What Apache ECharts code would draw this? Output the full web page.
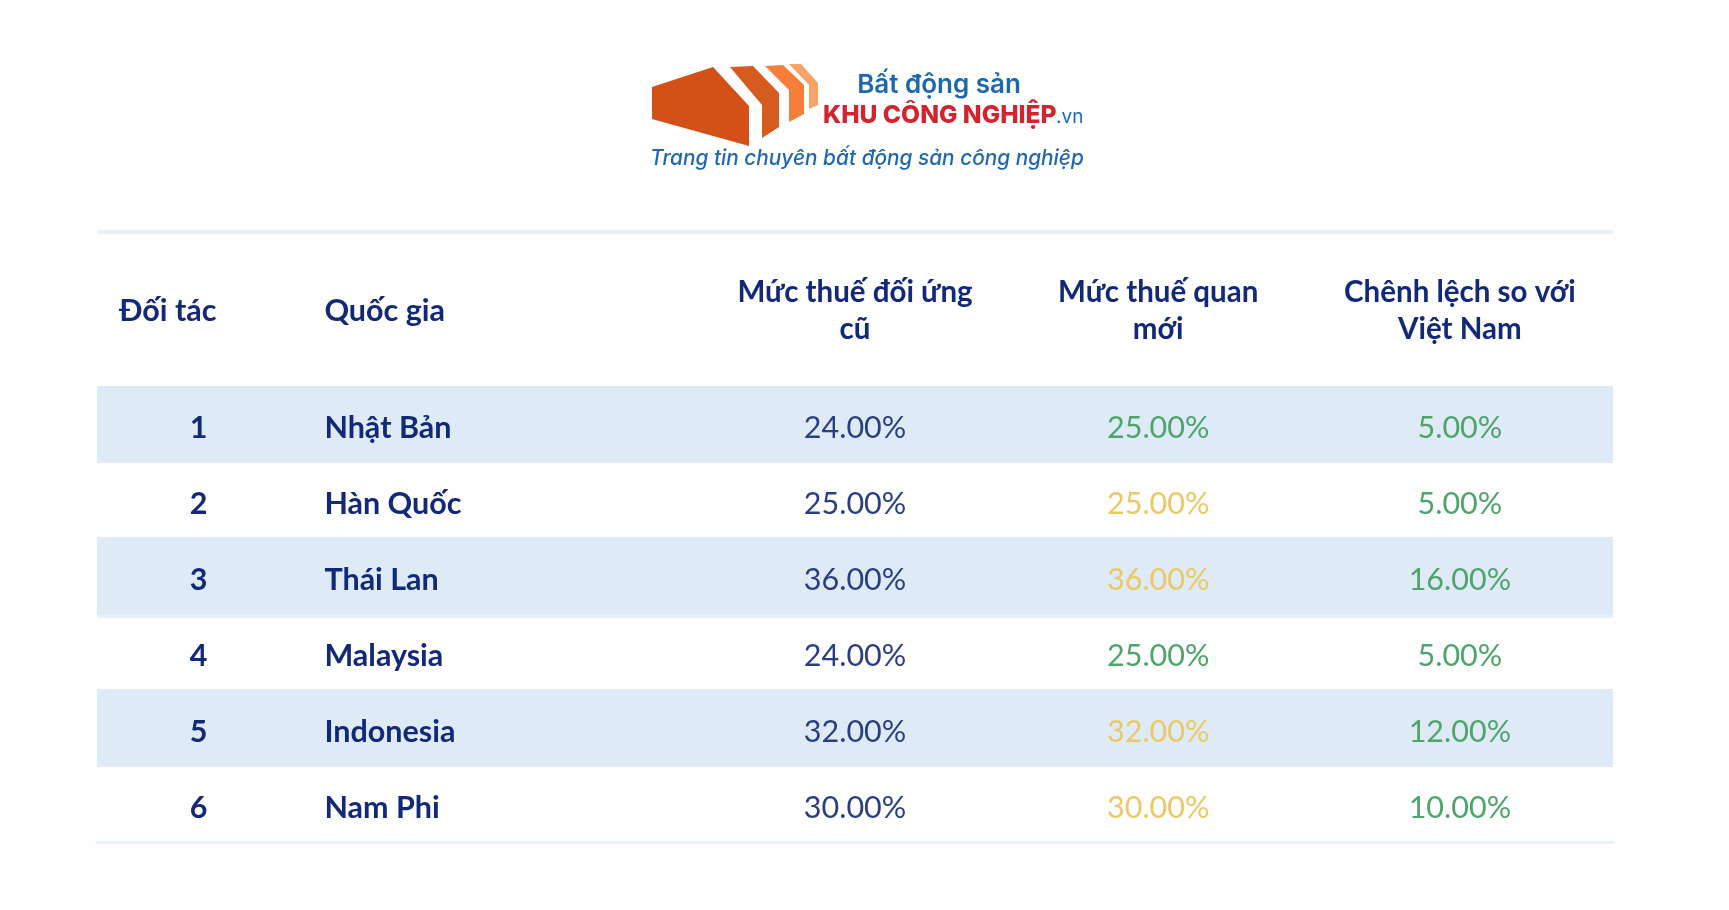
<!DOCTYPE html>
<html>
<head>
<meta charset="utf-8">
<title>Bảng so sánh thuế quan</title>
<style>
  html, body { margin: 0; padding: 0; background: #fefefe; }
  #chart { width: 1729px; height: 910px; }
</style>
<script src="https://cdn.jsdelivr.net/npm/echarts@6/dist/echarts.min.js"></script>
</head>
<body>
<div id="chart"></div>
<script>
  // ===== data =====
  const partners = ["1", "2", "3", "4", "5", "6"];
  const countries = ["Nhật Bản", "Hàn Quốc", "Thái Lan", "Malaysia", "Indonesia", "Nam Phi"];
  const oldRates = [24, 25, 36, 24, 32, 30];
  const newRates = [25, 25, 36, 25, 32, 30];
  const gaps = [5, 5, 16, 5, 12, 10];
  const newRateLevels = ["good", "warn", "warn", "good", "warn", "warn"];
  const headers = ["Đối tác", "Quốc gia", "Mức thuế đối ứng\ncũ", "Mức thuế quan\nmới", "Chênh lệch so với\nViệt Nam"];
  const shadedRows = [100, null, 100, null, 100, null];

  // ===== style =====
  const FONT = "Lato";
  const NAVY = "#12297a";
  const VALUE = "#2b3f80";
  const GREEN = "#4fa46c";
  const YELLOW = "#e9c966";
  const BAND = "#deebf6";
  const RULE = "#e9f0f7";
  const levelColor = { good: GREEN, warn: YELLOW };

  // table box, and column anchors as % of its width
  const TABLE_LEFT = 97, TABLE_WIDTH = 1516, BODY_TOP = 386, BODY_BOTTOM = 842;
  const colPos = [6.7, 15, 50, 70, 89.9];
  const colX = p => TABLE_LEFT + TABLE_WIDTH * p / 100;
  const fmtPct = v => v.toFixed(2) + "%";

  function cellSeries(col, values, opts) {
    return {
      type: "scatter",
      symbolSize: 0,
      silent: true,
      z: 5,
      itemStyle: { opacity: 1 },
      data: values.map((v, i) => ({
        value: [colPos[col], i],
        raw: v,
        label: opts.colors ? { color: opts.colors[i] } : undefined,
      })),
      label: {
        show: true,
        position: "inside",
        align: opts.align || "center",
        verticalAlign: "middle",
        offset: [0, 4],
        fontFamily: FONT,
        fontSize: 30.5,
        fontWeight: opts.weight || "normal",
        color: opts.color || VALUE,
        formatter: p => opts.fmt ? opts.fmt(p.data.raw) : p.data.raw,
      },
    };
  }

  // header row
  const headerGraphics = headers.map((h, i) => ({
    type: "text",
    silent: true,
    style: {
      text: h,
      x: i === 0 ? 119 : colX(colPos[i]),
      y: 311,
      textAlign: i < 2 ? "left" : "center",
      textVerticalAlign: "middle",
      fontFamily: FONT,
      fontSize: i < 2 ? 30.5 : 29.5,
      fontWeight: "bold",
      lineHeight: 37,
      fill: NAVY,
    },
  }));

  // logo, not data
  const logoPolys = [
    [[[652, 87], [713, 67], [749, 106], [749, 146], [652, 119]], "#d35118"],
    [[[730, 67], [753, 66], [779, 93], [779, 127], [762, 138], [762, 105]], "#d75a1e"],
    [[[765, 66], [783, 65], [804, 85], [804, 114], [789, 122], [789, 90]], "#f47e3a"],
    [[[789, 64], [801, 64], [818, 83], [818, 105], [809, 109], [809, 85]], "#f9a466"],
  ].map(([points, fill]) => ({
    type: "polygon", silent: true, shape: { points }, style: { fill },
  }));

  function logoText(text, x, y, size, weight, fill, align, italic) {
    return {
      type: "text",
      silent: true,
      style: {
        text, x, y, fill,
        textAlign: align,
        textVerticalAlign: "middle",
        fontFamily: "Inter",
        fontSize: size,
        fontWeight: weight,
        fontStyle: italic ? "italic" : "normal",
      },
    };
  }

  const rules = [[232, RULE], [613, "#fefefe"], [616, RULE]].map(([y, fill]) => ({
    type: "rect",
    silent: true,
    shape: { x: TABLE_LEFT, y: y - 2, width: TABLE_WIDTH, height: 4 },
    style: { fill },
  }));

  const chart = echarts.init(document.getElementById("chart"));
  chart.setOption({
    animation: false,
    backgroundColor: "#fefefe",
    grid: { left: TABLE_LEFT, width: TABLE_WIDTH, top: BODY_TOP, height: BODY_BOTTOM - BODY_TOP },
    xAxis: {
      type: "value", min: 0, max: 100,
      axisLabel: { show: false }, axisTick: { show: false }, splitLine: { show: false },
      axisLine: { show: true, lineStyle: { color: RULE, width: 3 } },
    },
    yAxis: {
      type: "category", inverse: true, data: countries,
      axisLabel: { show: false }, axisTick: { show: false }, axisLine: { show: false }, splitLine: { show: false },
    },
    series: [
      { type: "bar", data: shadedRows, barWidth: 78, silent: true, itemStyle: { color: BAND }, z: 1 },
      cellSeries(0, partners, { weight: "bold", color: NAVY }),
      cellSeries(1, countries, { weight: "bold", color: NAVY, align: "left" }),
      cellSeries(2, oldRates, { fmt: fmtPct }),
      cellSeries(3, newRates, { fmt: fmtPct, colors: newRateLevels.map(l => levelColor[l]) }),
      cellSeries(4, gaps, { fmt: fmtPct, color: GREEN }),
    ],
    graphic: [
      ...rules,
      ...headerGraphics,
      ...logoPolys,
      logoText("Bất động sản", 939, 85, 26, 600, "#1c68ad", "center"),
      logoText("KHU CÔNG NGHIỆP", 823, 116, 24.6, 800, "#d2232f", "left"),
      logoText(".vn", 1056, 117, 19, 400, "#1c68ad", "left"),
      logoText("Trang tin chuyên bất động sản công nghiệp", 650, 159, 20.8, 500, "#1f68ad", "left", true),
    ],
  });
</script>
</body>
</html>
